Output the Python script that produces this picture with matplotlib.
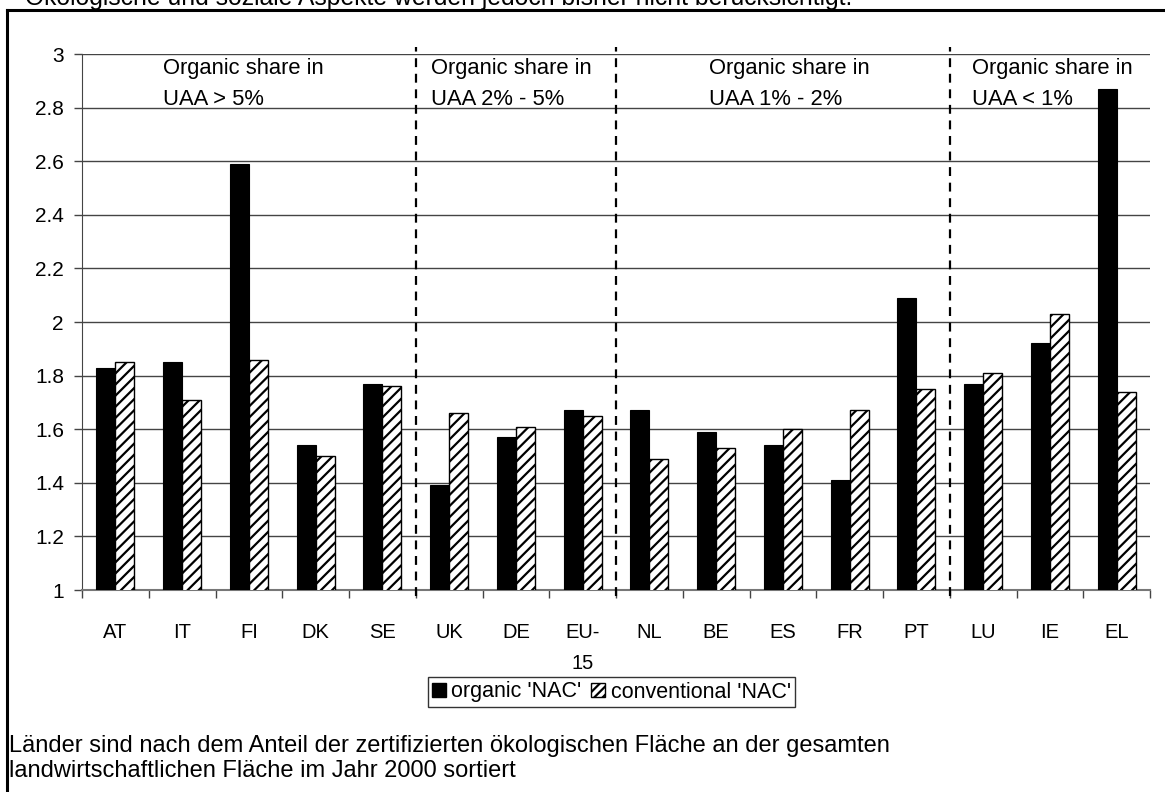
import matplotlib
matplotlib.use("Agg")
import matplotlib.pyplot as plt
import numpy as np
from matplotlib.patches import Patch
from matplotlib.lines import Line2D

countries = ["AT", "IT", "FI", "DK", "SE", "UK", "DE", "EU-\n15", "NL", "BE",
             "ES", "FR", "PT", "LU", "IE", "EL"]
organic_nac = [1.83, 1.85, 2.59, 1.54, 1.77, 1.39, 1.57, 1.67, 1.67, 1.59,
               1.54, 1.41, 2.09, 1.77, 1.92, 2.87]
conventional_nac = [1.85, 1.71, 1.86, 1.50, 1.76, 1.66, 1.61, 1.65, 1.49, 1.53,
                    1.60, 1.67, 1.75, 1.81, 2.03, 1.74]
group_labels = ["Organic share in\nUAA > 5%", "Organic share in\nUAA 2% - 5%",
                "Organic share in\nUAA 1% - 2%", "Organic share in\nUAA < 1%"]
group_bounds = [5, 8, 13]
y_ticks = [1, 1.2, 1.4, 1.6, 1.8, 2, 2.2, 2.4, 2.6, 2.8, 3]
series_names = ["organic 'NAC'", "conventional 'NAC'"]
title_text = "Ökologische und soziale Aspekte werden jedoch bisher nicht berücksichtigt."
caption_text = ("Länder sind nach dem Anteil der zertifizierten ökologischen Fläche an der gesamten\n"
                "landwirtschaftlichen Fläche im Jahr 2000 sortiert")

plt.rcParams['font.family'] = ['Liberation Sans', 'DejaVu Sans']
plt.rcParams['hatch.linewidth'] = 1.6

W, H = 1165, 792
fig = plt.figure(figsize=(W / 100, H / 100), dpi=100)

def fx(px):
    return px / W

def fy(py):
    return 1 - py / H

ax = fig.add_axes([fx(82), fy(590), fx(1150) - fx(82), fy(54) - fy(590)])

x = np.arange(len(countries))
bw = 0.285
ax.bar(x - bw / 2, organic_nac, bw, color="black", edgecolor="black",
       linewidth=0.8, zorder=3)
ax.bar(x + bw / 2, conventional_nac, bw, color="white", edgecolor="black",
       hatch="///", linewidth=1.0, zorder=3)

ax.set_ylim(1, 3)
ax.set_xlim(-0.5, len(countries) - 0.5)
ax.set_yticks(y_ticks)
ax.set_yticklabels([("%g" % v) for v in y_ticks])
ax.yaxis.grid(True, color="#444444", linewidth=1.0, zorder=0)
ax.tick_params(axis="y", direction="out", length=6, width=1, labelsize=15,
               pad=7, color="#444444")

ax.set_xticks(np.arange(len(countries) + 1) - 0.5)
ax.set_xticklabels([])
ax.set_xticks(x, minor=True)
ax.set_xticklabels(countries, minor=True, fontsize=14.5, linespacing=1.75)
ax.tick_params(axis="x", which="major", direction="out", length=6, width=1,
               color="#444444")
ax.tick_params(axis="x", which="minor", length=0, pad=24)

for s in ["top", "right"]:
    ax.spines[s].set_visible(False)
ax.spines["left"].set_color("#444444")
ax.spines["bottom"].set_color("#777777")
ax.spines["bottom"].set_linewidth(1.5)

for b in group_bounds:
    ax.add_line(Line2D([b - 0.5, b - 0.5], [-0.012, 1.013],
                       transform=ax.get_xaxis_transform(), color="black",
                       linestyle=(0, (4, 3)), linewidth=1.6, clip_on=False, zorder=4))

label_px = [163, 431, 709, 972]
for lbl, px in zip(group_labels, label_px):
    fig.text(fx(px), fy(58), lbl, ha="left", va="top", fontsize=15.8,
             linespacing=1.62)

# outer frame (left and top edges visible)
fig.add_artist(Line2D([fx(7), fx(7)], [fy(10), 0], color="black", linewidth=2.2))
fig.add_artist(Line2D([fx(7), 1], [fy(10), fy(10)], color="black", linewidth=2.2))

fig.text(fx(25), fy(5), title_text, ha="left", va="baseline", fontsize=17.8)
fig.text(fx(9), fy(735), caption_text, ha="left", va="top", fontsize=17,
         linespacing=1.15)

handles = [Patch(facecolor="black", edgecolor="black"),
           Patch(facecolor="white", edgecolor="black", hatch="////")]
leg = fig.legend(handles, series_names, loc="center",
                 bbox_to_anchor=(fx(611.5), fy(692)), ncol=2, fontsize=15.5,
                 frameon=True, fancybox=False, edgecolor="black",
                 handlelength=0.65, handleheight=0.65, handletextpad=0.25,
                 columnspacing=0.45, borderpad=0.2, borderaxespad=0)
leg.get_frame().set_linewidth(1.0)

fig.savefig("out.png", dpi=100)
